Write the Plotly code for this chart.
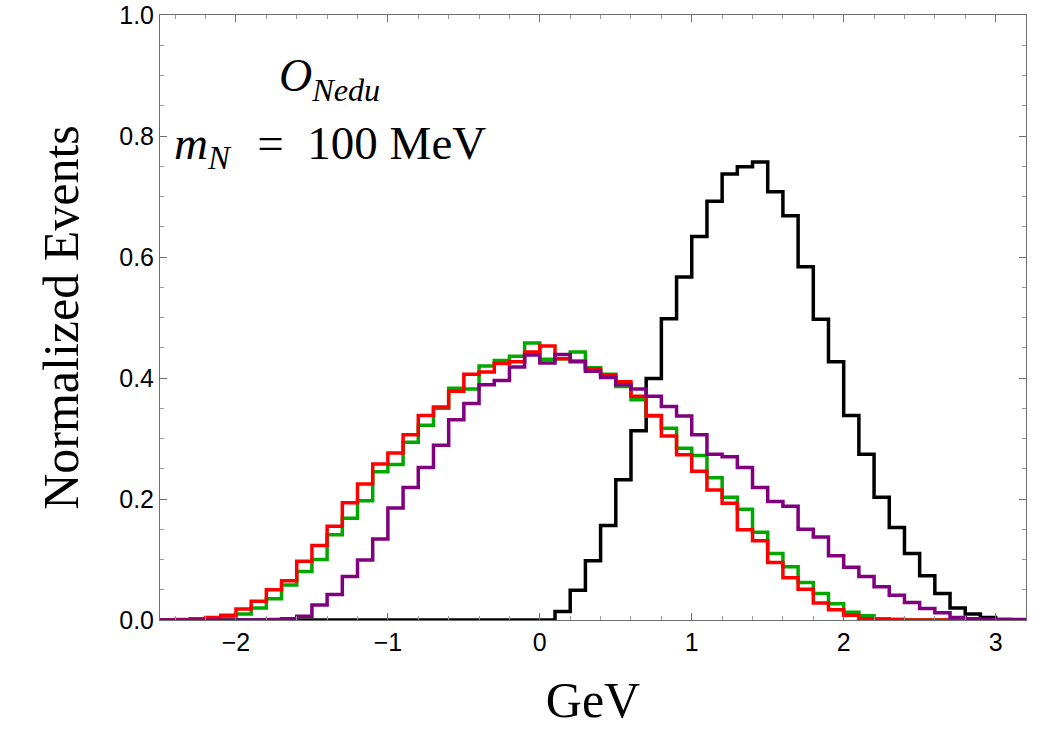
import numpy as np
import plotly.graph_objects as go

# histogram binning (GeV): 57 bins of 0.1 from -2.5 to 3.2
BIN_START = -2.5
BIN_WIDTH = 0.1
N_BINS = 57

# normalized events per bin
green_vals = [
    0.000, 0.000, 0.001, 0.001, 0.003, 0.010, 0.020, 0.035, 0.058, 0.080,
    0.100, 0.141, 0.168, 0.197, 0.245, 0.257, 0.294, 0.322, 0.350, 0.383,
    0.382, 0.420, 0.429, 0.436, 0.458, 0.431, 0.432, 0.443, 0.417, 0.406,
    0.386, 0.364, 0.337, 0.317, 0.284, 0.272, 0.235, 0.203, 0.183, 0.145,
    0.110, 0.088, 0.062, 0.044, 0.027, 0.013, 0.007, 0.002, 0.001, 0.000,
    0.000, 0.000, 0.000, 0.000, 0.000, 0.000, 0.000,
]
red_vals = [
    0.000, 0.001, 0.002, 0.004, 0.008, 0.018, 0.031, 0.050, 0.065, 0.097,
    0.123, 0.155, 0.194, 0.225, 0.258, 0.276, 0.306, 0.338, 0.352, 0.378,
    0.406, 0.410, 0.424, 0.427, 0.443, 0.453, 0.432, 0.428, 0.415, 0.405,
    0.394, 0.370, 0.338, 0.304, 0.273, 0.246, 0.215, 0.193, 0.149, 0.131,
    0.095, 0.070, 0.051, 0.028, 0.017, 0.008, 0.002, 0.001, 0.001, 0.000,
    0.000, 0.000, 0.000, 0.000, 0.000, 0.000, 0.000,
]
purple_vals = [
    0.000, 0.000, 0.000, 0.000, 0.000, 0.000, 0.000, 0.001, 0.002, 0.006,
    0.025, 0.042, 0.072, 0.099, 0.134, 0.185, 0.219, 0.252, 0.289, 0.331,
    0.358, 0.389, 0.396, 0.418, 0.438, 0.425, 0.439, 0.427, 0.411, 0.401,
    0.389, 0.382, 0.370, 0.353, 0.337, 0.306, 0.274, 0.270, 0.252, 0.219,
    0.196, 0.188, 0.150, 0.137, 0.106, 0.087, 0.072, 0.055, 0.041, 0.029,
    0.019, 0.012, 0.004, 0.002, 0.001, 0.001, 0.001,
]
black_vals = [
    0.000, 0.000, 0.000, 0.000, 0.000, 0.000, 0.000, 0.000, 0.000, 0.000,
    0.000, 0.000, 0.000, 0.000, 0.000, 0.000, 0.000, 0.000, 0.000, 0.000,
    0.000, 0.000, 0.000, 0.000, 0.000, 0.000, 0.014, 0.049, 0.098, 0.156,
    0.232, 0.313, 0.399, 0.498, 0.567, 0.634, 0.692, 0.737, 0.749, 0.757,
    0.708, 0.668, 0.584, 0.497, 0.427, 0.338, 0.274, 0.203, 0.153, 0.110,
    0.073, 0.044, 0.020, 0.010, 0.004, 0.001, 0.000,
]

SERIES = [
    (black_vals, "#000000"),
    (green_vals, "#00A800"),
    (red_vals, "#FF0000"),
    (purple_vals, "#800080"),
]

SERIF = "Liberation Serif, Times New Roman, serif"
SANS = "Liberation Sans, Arial, sans-serif"
FRAME = "#6e6e6e"

edges = np.round(BIN_START + BIN_WIDTH * np.arange(N_BINS + 1), 2)

fig = go.Figure()
for vals, color in SERIES:
    y = list(vals) + [vals[-1]]
    fig.add_trace(go.Scatter(
        x=edges, y=y, mode="lines", line_shape="hv",
        line=dict(color=color, width=3.5), showlegend=False, hoverinfo="skip",
    ))

axis_common = dict(
    showgrid=False, zeroline=False, automargin=False, ticklabeloverflow="allow",
    showline=True, linecolor=FRAME, linewidth=1, mirror="allticks",
    ticks="inside", ticklen=7, tickwidth=1, tickcolor=FRAME,
    tickfont=dict(family=SANS, size=25, color="#000000"),
)

fig.update_xaxes(
    range=[-2.5, 3.2], tick0=0, dtick=1,
    minor=dict(ticks="inside", ticklen=4, dtick=0.2, tick0=0, tickcolor="#9a9a9a", showgrid=False),
    title=dict(text="GeV", font=dict(family=SERIF, size=50, color="#000000"), standoff=26),
    **axis_common,
)
fig.update_yaxes(
    range=[0, 1.0], tick0=0, dtick=0.2, tickformat=".1f",
    minor=dict(ticks="inside", ticklen=4, dtick=0.05, tick0=0, tickcolor="#9a9a9a", showgrid=False),
    title=dict(text="Normalized Events", font=dict(family=SERIF, size=50, color="#000000"), standoff=24),
    **axis_common,
)

fig.add_annotation(
    x=-1.73, y=0.894, xref="x", yref="y", xanchor="left", showarrow=False,
    text="<i>O</i><sub><i>Nedu</i></sub>",
    font=dict(family=SERIF, size=46, color="#000000"),
)
fig.add_annotation(
    x=-2.42, y=0.782, xref="x", yref="y", xanchor="left", showarrow=False,
    text="<i>m</i><sub><i>N</i></sub>&nbsp;&nbsp;\u200a=&nbsp;&nbsp;100 MeV",
    font=dict(family=SERIF, size=47, color="#000000"),
)

fig.update_layout(
    width=1059, height=744,
    margin=dict(l=160, r=33, t=15, b=124),
    plot_bgcolor="#FFFFFF", paper_bgcolor="#FFFFFF",
)

# drop the default page margin so the figure fills the window exactly
fig.write_html(
    "out.html",
    config={"displayModeBar": False},
    post_script="document.body.style.margin = '0';",
)
